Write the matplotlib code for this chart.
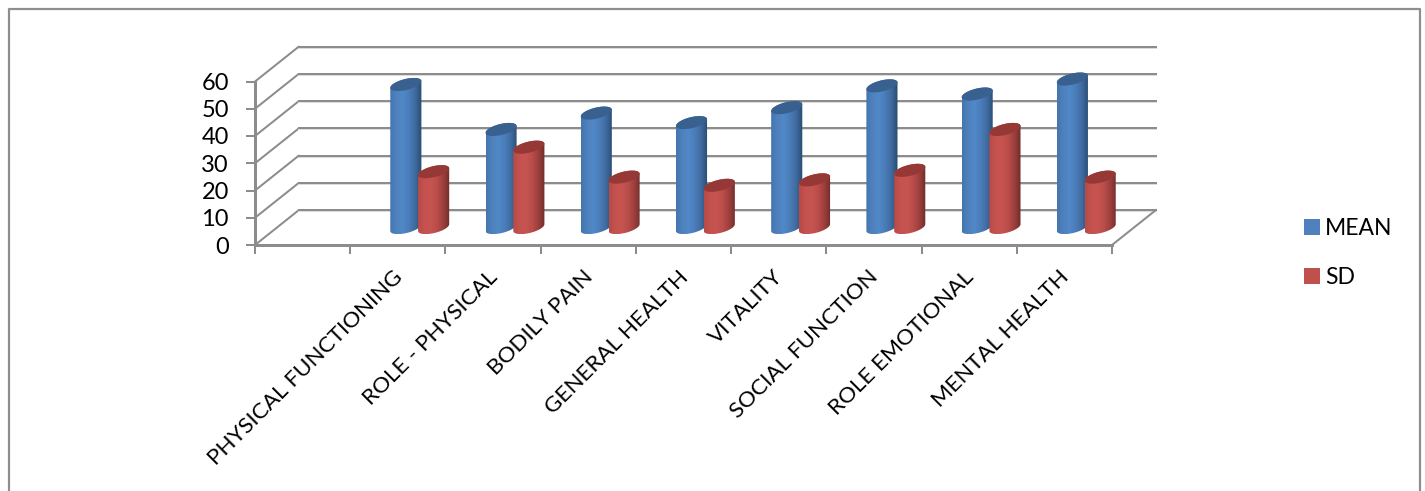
import numpy as np
import matplotlib
matplotlib.use('Agg')
import matplotlib.pyplot as plt
from matplotlib.lines import Line2D
from matplotlib.patches import Patch, PathPatch, Polygon
from matplotlib.path import Path
from matplotlib.colors import LinearSegmentedColormap

plt.rcParams['font.family'] = ['Lato', 'DejaVu Sans']

# first slot of the category axis is empty
categories = ['', 'PHYSICAL FUNCTIONING', 'ROLE - PHYSICAL', 'BODILY PAIN', 'GENERAL HEALTH',
              'VITALITY', 'SOCIAL FUNCTION', 'ROLE EMOTIONAL', 'MENTAL HEALTH']
mean_values = [52.5, 36, 42, 38.5, 44, 52, 49, 54.5]
sd_values = [20.5, 29.5, 18.5, 15.5, 17.5, 21, 36, 18.5]
y_ticks = [0, 10, 20, 30, 40, 50, 60]

GRID = '#8c8c8c'
DEPTH_X = 0.46   # shift of the back wall, in categories
DEPTH_Y = 12.8   # shift of the back wall, in value units
BAR_R = 0.14
BAR_OFFSET = 0.146
ELLIPSE_A = 0.084
ELLIPSE_B = 2.4

fig = plt.figure(figsize=(14.25, 4.91), dpi=100)
ax = fig.add_axes([255 / 1425, 1 - 245 / 491, 857 / 1425, 163.5 / 491])


def px(n):
    return n * 72 / fig.dpi


def sheared_ellipse(cx, cy, t):
    return (cx + BAR_R * np.cos(t) + ELLIPSE_A * np.sin(t),
            cy + ELLIPSE_B * np.sin(t))


def draw_cylinder(cx, value, cmap, top_color):
    base = DEPTH_Y / 2
    cx = cx + DEPTH_X / 2
    top = base + value
    t_right = np.arctan2(ELLIPSE_A, BAR_R)

    # side of the cylinder: lower half of the base, then upper half of the top
    t = np.linspace(t_right - np.pi, t_right, 60)
    bx, by = sheared_ellipse(cx, base, t)
    tx, ty = sheared_ellipse(cx, top, t + np.pi)
    verts = np.column_stack([np.r_[bx, tx], np.r_[by, ty]])
    half = np.hypot(BAR_R, ELLIPSE_A)

    body = PathPatch(Path(np.vstack([verts, verts[0]])), transform=ax.transData,
                     facecolor='none', edgecolor='none', clip_on=False)
    ax.add_patch(body)
    im = ax.imshow(np.linspace(0, 1, 128).reshape(1, -1), cmap=cmap, aspect='auto',
                   extent=(cx - half, cx + half, base - ELLIPSE_B, top + ELLIPSE_B),
                   zorder=3, interpolation='bilinear')
    # tall bars rise above the front plane of the axes
    im.set_clip_box(fig.bbox)
    im.set_clip_path(body)

    cap_x, cap_y = sheared_ellipse(cx, top, np.linspace(0, 2 * np.pi, 80))
    ax.add_patch(Polygon(np.column_stack([cap_x, cap_y]), closed=True, facecolor=top_color,
                         edgecolor='none', zorder=3.5, clip_on=False))


blue = LinearSegmentedColormap.from_list('blue', ['#4375b0', '#4f81bd', '#5088c8', '#4a7cb8', '#3f6a9e', '#274a70'])
red = LinearSegmentedColormap.from_list('red', ['#b84a47', '#c4524f', '#c75451', '#b94d4a', '#9c3f3c', '#6f2c2a'])

# walls and floor
for v in y_ticks:
    ax.plot([0, DEPTH_X], [v, v + DEPTH_Y], color=GRID, lw=px(2), clip_on=False, zorder=1,
            solid_capstyle='round')
    ax.plot([DEPTH_X, 9 + DEPTH_X], [v + DEPTH_Y - 0.4, v + DEPTH_Y - 0.4], color='#dcdcdc', lw=px(2),
            clip_on=False, zorder=1)
    ax.plot([DEPTH_X, 9 + DEPTH_X], [v + DEPTH_Y, v + DEPTH_Y], color=GRID, lw=px(2),
            clip_on=False, zorder=1.2)
ax.plot([9, 9 + DEPTH_X], [0, DEPTH_Y], color=GRID, lw=px(2), clip_on=False, zorder=1)

for i, (m, s) in enumerate(zip(mean_values, sd_values)):
    center = i + 1.5
    draw_cylinder(center - BAR_OFFSET, m, blue, '#38618f')
    draw_cylinder(center + BAR_OFFSET, s, red, '#953836')

ax.set_xlim(0, 9)
ax.set_ylim(0, 60)

for side in ['top', 'right']:
    ax.spines[side].set_visible(False)
for side in ['left', 'bottom']:
    ax.spines[side].set_color(GRID)
    ax.spines[side].set_linewidth(px(3))

ax.set_yticks(y_ticks)
ax.tick_params(axis='y', length=px(9), width=px(2), color=GRID, labelsize=17, pad=px(17),
               labelcolor='black')
ax.set_xticks(np.arange(10))
ax.set_xticklabels([])
ax.tick_params(axis='x', which='major', length=px(9), width=px(2), color=GRID)
ax.set_xticks(np.arange(9) + 0.44, minor=True)
ax.set_xticklabels(categories, minor=True, rotation=45, ha='right', va='top',
                   rotation_mode='anchor', fontsize=16.2)
ax.tick_params(axis='x', which='minor', length=0, pad=px(22), labelcolor='black')

handles = [Patch(facecolor='#4f81bd', label='MEAN'), Patch(facecolor='#c0504d', label='SD')]
fig.legend(handles=handles, loc='center left', bbox_to_anchor=(1304 / 1425, 1 - 253 / 491),
           frameon=False, fontsize=16.5, handlelength=0.68, handleheight=0.68,
           labelspacing=1.2, handletextpad=0.25, borderpad=0, borderaxespad=0)

# chart area frame, running off the bottom of the figure
frame_x = np.array([9, 9, 1420, 1420]) / 1425
frame_y = 1 - np.array([491, 9, 9, 491]) / 491
fig.add_artist(Line2D(frame_x, frame_y, color='#8e8e8e', lw=px(2.2), transform=fig.transFigure))

fig.savefig('out.png', dpi=100)
